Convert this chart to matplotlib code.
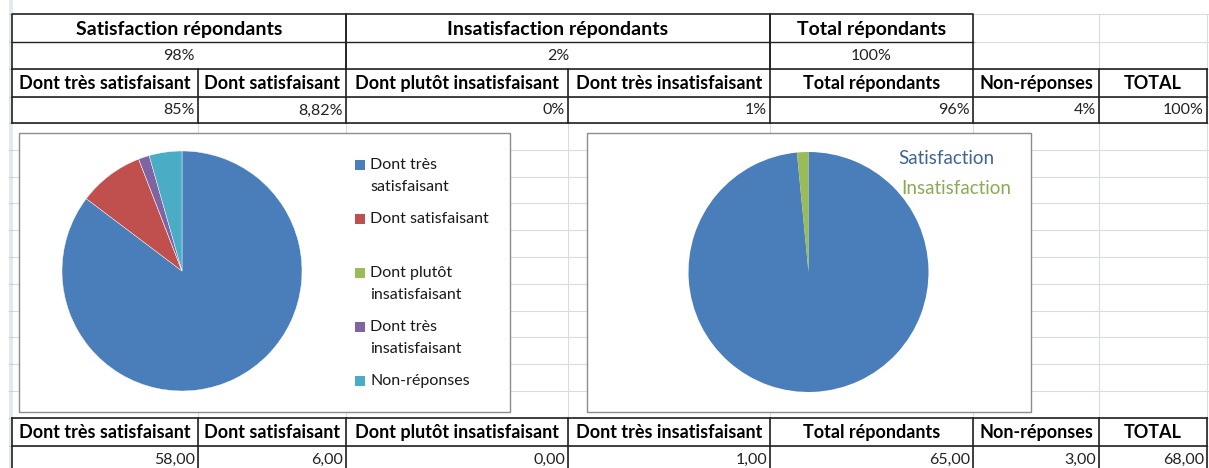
import matplotlib
matplotlib.use("Agg")
import matplotlib.pyplot as plt
from matplotlib.patches import Rectangle

plt.rcParams['font.family'] = ['Lato', 'DejaVu Sans']

# --- data ---
top_headers = ["Satisfaction répondants", "Insatisfaction répondants", "Total répondants"]
top_pcts = ["98%", "2%", "100%"]
categories = ["Dont très satisfaisant", "Dont satisfaisant", "Dont plutôt insatisfaisant",
              "Dont très insatisfaisant", "Total répondants", "Non-réponses", "TOTAL"]
pct_values = ["85%", "8,82%", "0%", "1%", "96%", "4%", "100%"]
counts = [58, 6, 0, 1, 65, 3, 68]

pie_labels = ["Dont très\nsatisfaisant", "Dont satisfaisant", "Dont plutôt\ninsatisfaisant",
              "Dont très\ninsatisfaisant", "Non-réponses"]
pie_counts = [58, 6, 0, 1, 3]
pie_colors = ['#4A7EBB', '#C0504D', '#9BBB59', '#8064A2', '#4BACC6']

sat_labels = ["Satisfaction", "Insatisfaction"]
sat_counts = [64, 1]
sat_colors = ['#4A7EBB', '#9BBB59']
sat_text_colors = ['#3E6496', '#8AAB55']

# --- layout (pixels) ---
W, H = 1209, 468
col_edges = [12, 198, 346, 568, 770, 973, 1099, 1207]
top_spans = [(12, 346), (346, 770), (770, 973)]
GRID = '#D9DBDE'
DARK = '#222222'

fig = plt.figure(figsize=(W / 100, H / 100), dpi=100)
ax = fig.add_axes([0, 0, 1, 1])
ax.set_xlim(0, W)
ax.set_ylim(H, 0)
ax.axis('off')

# spreadsheet grid
row_lines = [14, 42, 69, 97, 123] + [123 + 26.8 * k for k in range(1, 11)] + [418, 446]
for y in row_lines:
    ax.plot([12, W], [y, y], color=GRID, lw=0.8, zorder=1)
for x in col_edges:
    ax.plot([x, x], [14, H], color=GRID, lw=0.8, zorder=1)
ax.add_patch(Rectangle((9, 0), 4, H, facecolor='#E4E8F0', edgecolor='none', zorder=1))
for y in row_lines:
    ax.plot([9, 12], [y, y], color='#C8CDD8', lw=0.8, zorder=1)

# top merged block
for (x0, x1), head, pct in zip(top_spans, top_headers, top_pcts):
    ax.add_patch(Rectangle((x0, 14), x1 - x0, 55, facecolor='white', edgecolor='none', zorder=2))
    ax.text((x0 + x1) / 2, 29, head, ha='center', va='center', fontsize=14,
            fontweight='bold', color='black', zorder=4)
    ax.text((x0 + x1) / 2, 56, pct, ha='center', va='center', fontsize=11.5,
            color='#222222', zorder=4)
    ax.plot([x0, x0, x1, x1], [69, 14, 14, 69], color=DARK, lw=1.2, zorder=3)
    ax.plot([x0, x1], [42, 42], color=DARK, lw=1.0, zorder=3)


def table_rows(y_top, y_mid, y_bot, values, val_y):
    for y in (y_top, y_mid):
        ax.plot([12, 1207], [y, y], color=DARK, lw=1.2, zorder=3)
    if y_bot is not None:
        ax.plot([12, 1207], [y_bot, y_bot], color=DARK, lw=1.2, zorder=3)
    for x in col_edges:
        ax.plot([x, x], [y_top, y_bot if y_bot is not None else H], color=DARK, lw=1.2, zorder=3)
    for i, cat in enumerate(categories):
        x0, x1 = col_edges[i], col_edges[i + 1]
        ax.text((x0 + x1) / 2, (y_top + y_mid) / 2 + 0.5, cat, ha='center', va='center',
                fontsize=13, fontweight='bold', color='black', zorder=4)
        ax.text(x1 - 3, val_y, values[i], ha='right', va='center', fontsize=11.5,
                color='#222222', zorder=4)


table_rows(69, 97, 123, pct_values, 110.5)
count_text = [f"{v:.2f}".replace(".", ",") for v in counts]
table_rows(418, 446, None, count_text, 460)

# chart boxes
ax.add_patch(Rectangle((19, 133), 491, 279, facecolor='white', edgecolor='#8C8C8C', lw=1.0, zorder=5))
ax.add_patch(Rectangle((587, 133), 444, 279, facecolor='white', edgecolor='#8C8C8C', lw=1.0, zorder=5))


def pie_axes(cx, cy, r):
    pax = fig.add_axes([(cx - r) / W, (H - cy - r) / H, 2 * r / W, 2 * r / H])
    pax.set_zorder(10)
    pax.axis('off')
    return pax


pax1 = pie_axes(182, 271, 120)
pax1.pie(pie_counts, colors=pie_colors, startangle=90, counterclock=False,
         wedgeprops=dict(edgecolor='white', linewidth=0.3))
pax1.set_xlim(-1, 1)
pax1.set_ylim(-1, 1)

# legend of the first chart
for i, (lab, col) in enumerate(zip(pie_labels, pie_colors)):
    y0 = 165 + 54 * i
    ax.add_patch(Rectangle((355, y0 - 5), 10, 10, facecolor=col, edgecolor='none', zorder=6))
    for j, line in enumerate(lab.split("\n")):
        ax.text(370, y0 + 22 * j, line, ha='left', va='center', fontsize=11.5,
                color='#1A1A1A', zorder=6)

pax2 = pie_axes(808.5, 272, 120)
pax2.pie(sat_counts, colors=sat_colors, startangle=90, counterclock=False,
         wedgeprops=dict(linewidth=0))
pax2.set_xlim(-1, 1)
pax2.set_ylim(-1, 1)

for i, (lab, col) in enumerate(zip(sat_labels, sat_text_colors)):
    ax.text(898 + 3 * i, 159 + 30 * i, lab, ha='left', va='center', fontsize=13.5,
            color=col, zorder=6)

fig.savefig("out.png", dpi=100)
